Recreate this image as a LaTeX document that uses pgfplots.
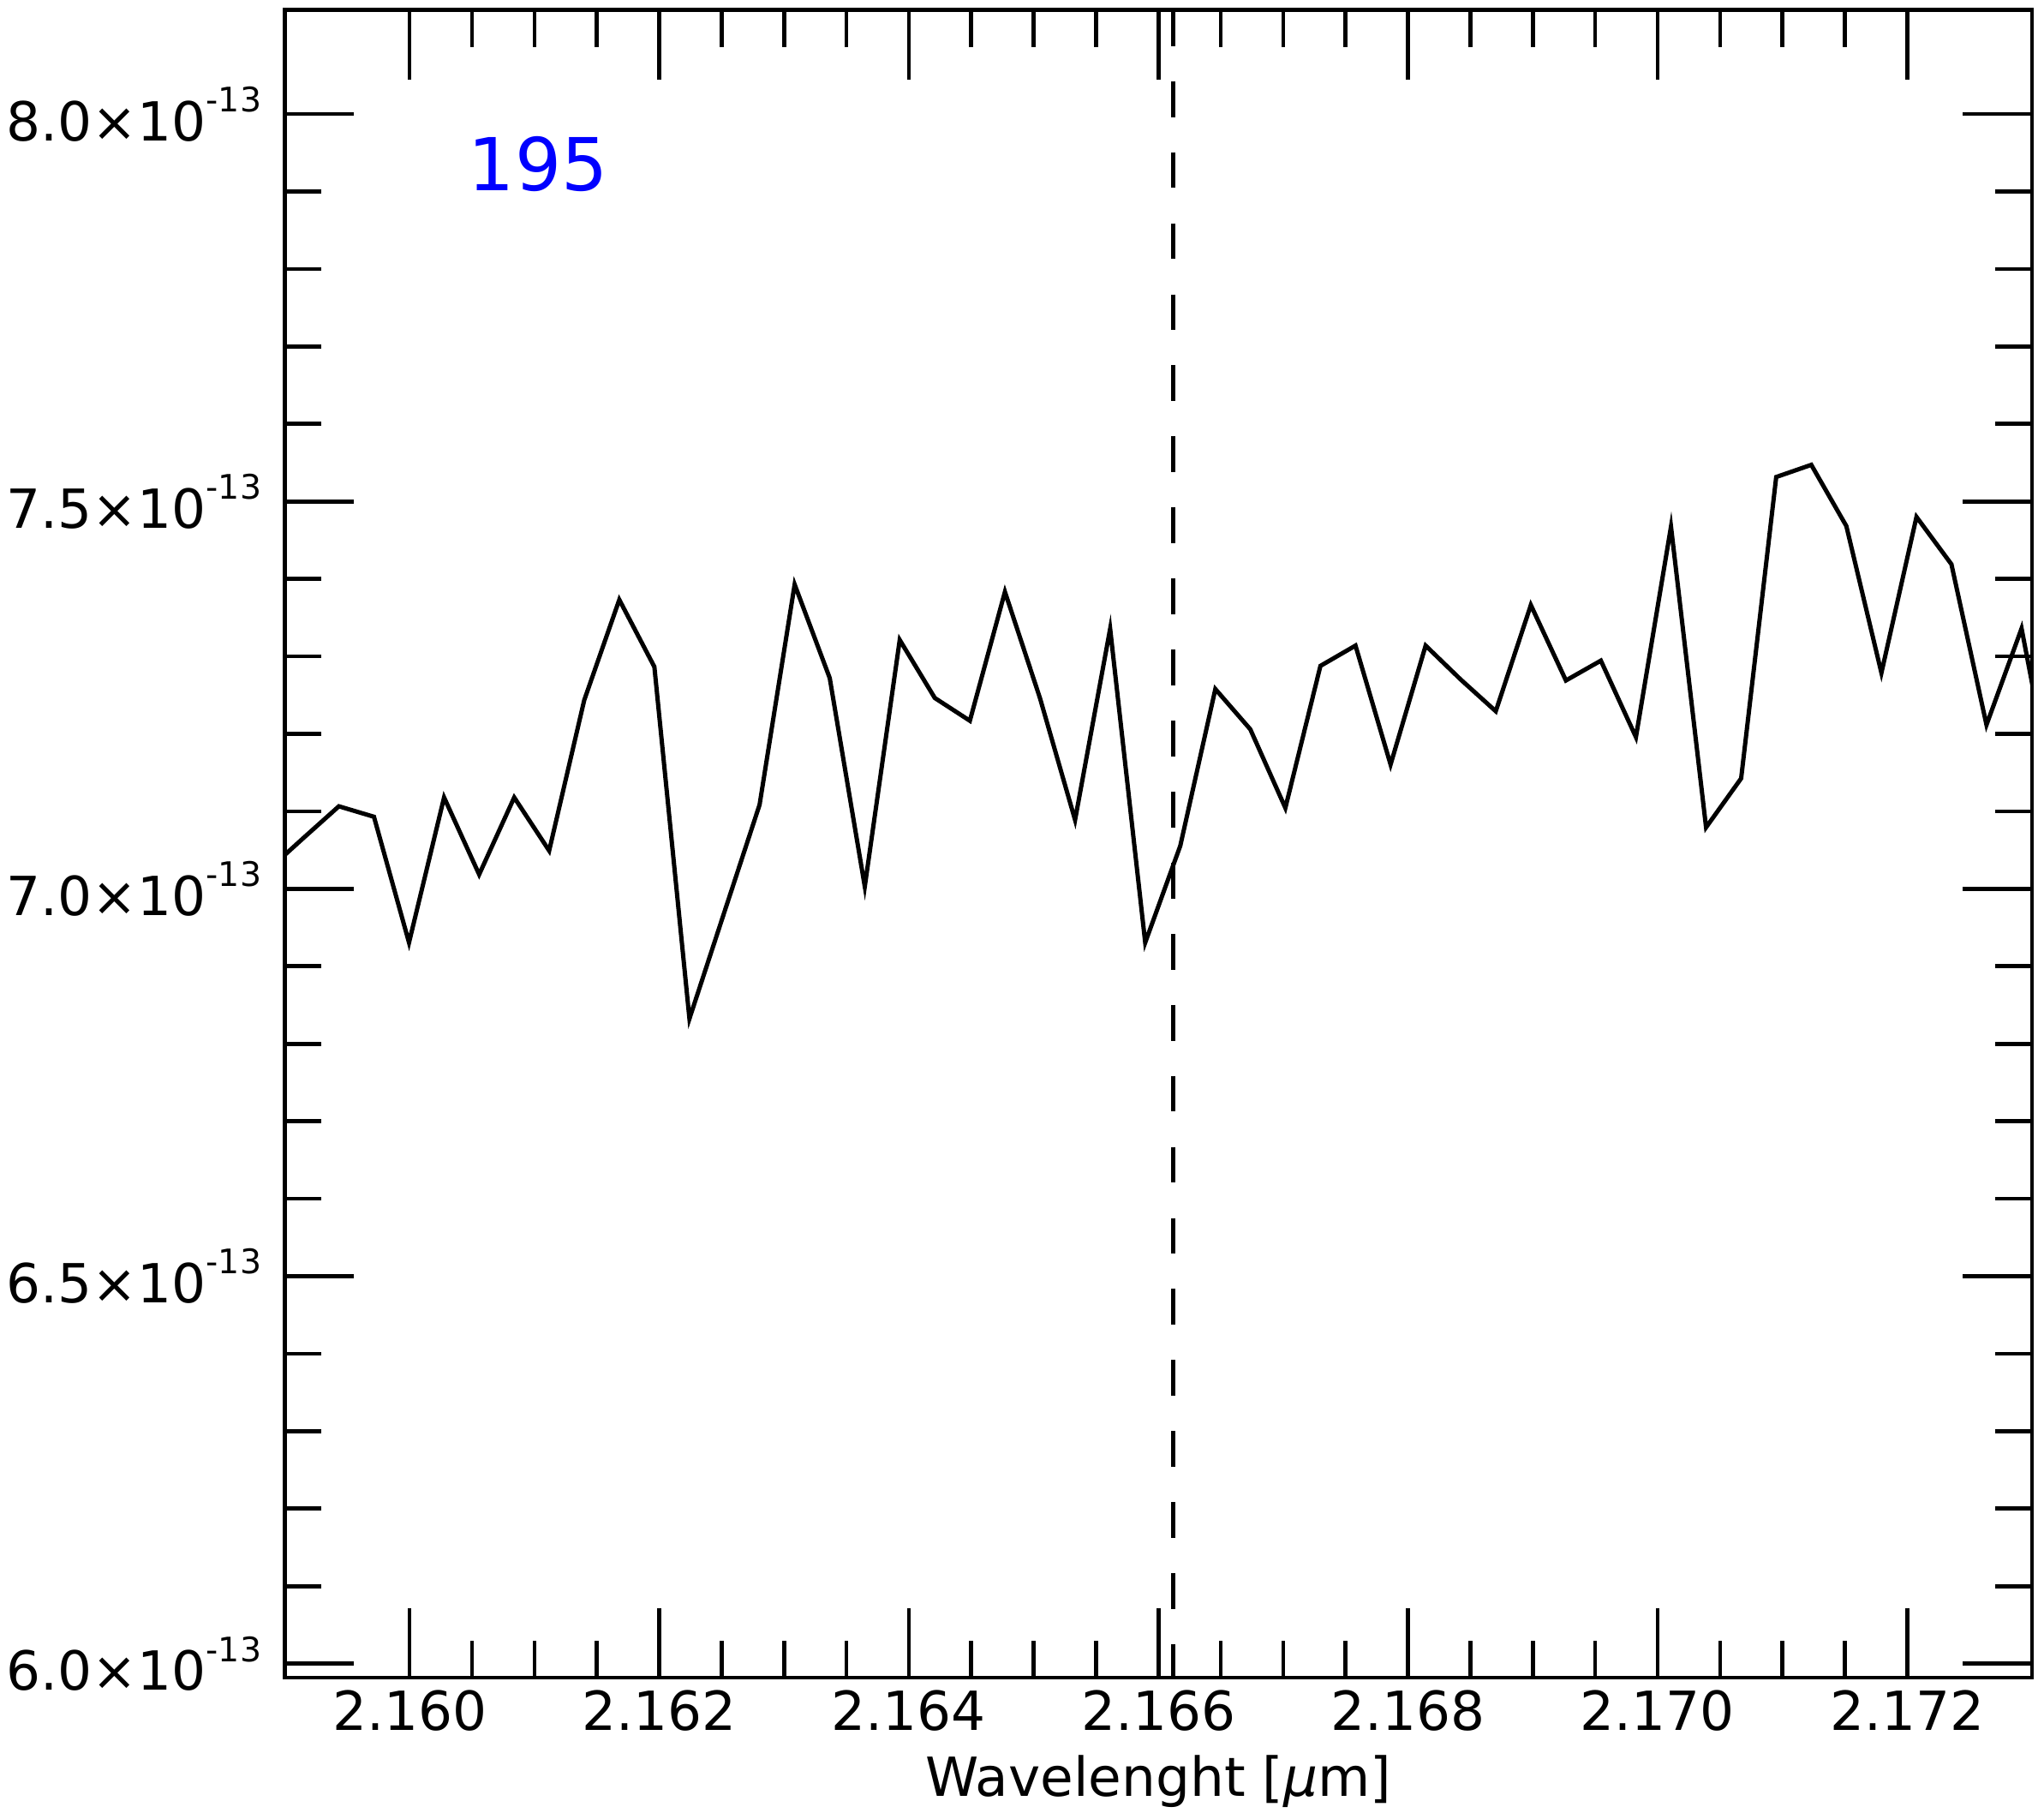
\documentclass[border=0pt]{standalone}
\usepackage{fontspec}
\setmainfont{DejaVu Sans}
\usepackage{pgfplots}
\pgfplotsset{compat=1.18}
\newcommand\sci[1]{#1×10\raisebox{8pt}{\fontsize{9.4}{10}\selectfont -13}}
\begin{document}
\begin{tikzpicture}
\begin{axis}[
  name=ax,
  scale only axis,
  width=17.095cm, height=16.311cm,
  xmin=2.159, xmax=2.173,
  ymin=5.982, ymax=8.134,
  xtick={2.160,2.162,2.164,2.166,2.168,2.170,2.172},
  xticklabels={2.160,2.162,2.164,2.166,2.168,2.170,2.172},
  minor x tick num=3,
  ytick={6.0,6.5,7.0,7.5,8.0},
  yticklabels={\sci{6.0},\sci{6.5},\sci{7.0},\sci{7.5},\sci{8.0}},
  minor y tick num=4,
  tick align=inside,
  major tick length=0.679cm,
  minor tick length=0.36cm,
  axis line style={line width=1.15pt},
  tick style={black, line width=1.1pt},
  ticklabel style={font=\fontsize{15}{18}\selectfont},
  yticklabel style={xshift=-3pt},
  xlabel={Wavelenght [{\itshape μ}m]},
  xlabel style={font=\fontsize{15}{18}\selectfont},
]
% spectrum
\addplot[black, line width=1.2pt, no marks] coordinates {
(2.158871,7.025) (2.159152,7.066) (2.159433,7.1065) (2.159714,7.0930)
(2.159995,6.9306) (2.160276,7.1179) (2.160557,7.0185) (2.160838,7.1179)
(2.161118,7.0492) (2.161399,7.2435) (2.161680,7.3731) (2.161961,7.2865)
(2.162242,6.8324) (2.162523,6.9705) (2.162804,7.1085) (2.163085,7.3928)
(2.163366,7.2721) (2.163647,7.0030) (2.163927,7.3212) (2.164208,7.2463)
(2.164489,7.2169) (2.164770,7.3833) (2.165051,7.2460) (2.165332,7.0889)
(2.165613,7.3356) (2.165894,6.9306) (2.166175,7.0555) (2.166456,7.2578)
(2.166736,7.2059) (2.167017,7.1044) (2.167298,7.2877) (2.167579,7.3139)
(2.167860,7.1604) (2.168141,7.3139) (2.168422,7.2701) (2.168703,7.2292)
(2.168984,7.3662) (2.169265,7.2689) (2.169545,7.2945) (2.169826,7.1958)
(2.170107,7.4674) (2.170388,7.0793) (2.170669,7.1425) (2.170950,7.5315)
(2.171231,7.5472) (2.171512,7.4682) (2.171793,7.2787) (2.172074,7.4800)
(2.172354,7.4189) (2.172635,7.2116) (2.172916,7.3360) (2.173197,7.100)
};
% line centre
\addplot[black, line width=1.1pt, dash pattern=on 0.35cm off 0.345cm] coordinates {(2.16612,8.134) (2.16612,5.982)};
\node[text=blue, font=\fontsize{20.3}{24}\selectfont] at (axis cs:2.16103,7.935) {195};
\end{axis}
\pgfresetboundingbox
\path[use as bounding box] ([shift={(-2.787cm,-1.324cm)}]ax.south west) rectangle ([shift={(0.117cm,0.1cm)}]ax.north east);
\end{tikzpicture}
\end{document}
